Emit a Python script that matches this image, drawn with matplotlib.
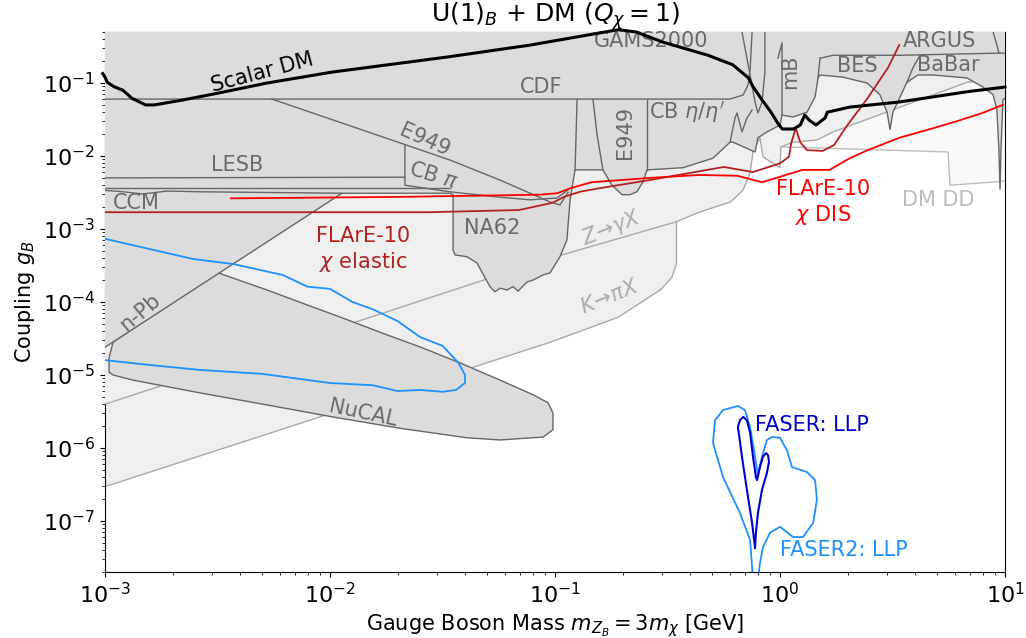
import numpy as np
import matplotlib.pyplot as plt
from matplotlib.ticker import LogLocator, NullFormatter

# everything below is (log10 mass [GeV], log10 coupling)

# dark grey: union of the existing bounds (CDF, LESB, CCM, E949, CB, NA62, n-Pb, GAMS, mB, BES, BaBar, ARGUS)
bounds_dark = [
    (-3.02, 0.0), (1.02, 0.0), (1.02, -1.16), (0.991, -1.23), (0.982, -1.92), (0.978, -2.46),
    (0.973, -1.92), (0.964, -1.37), (0.947, -1.16), (0.902, -1.055), (0.831, -0.93), (0.68, -0.89),
    (0.613, -0.89), (0.564, -0.99), (0.502, -1.40), (0.489, -1.64), (0.476, -1.40), (0.444, -1.16),
    (0.387, -1.00), (0.28, -0.92), (0.178, -0.89), (0.169, -0.93), (0.156, -1.19), (0.12, -1.40),
    (0.058, -1.465), (0.009, -1.44), (0.0, -1.575), (-0.058, -1.67), (-0.098, -1.75), (-0.111, -1.945),
    (-0.209, -1.81), (-0.222, -1.81), (-0.298, -2.03), (-0.431, -2.16), (-0.591, -2.19), (-0.609, -2.355),
    (-0.636, -2.49), (-0.667, -2.53), (-0.702, -2.53), (-0.747, -2.40), (-0.787, -2.19), (-0.911, -2.19),
    (-0.933, -2.60), (-0.947, -3.15), (-0.978, -3.38), (-1.022, -3.60), (-1.053, -3.63), (-1.098, -3.70),
    (-1.124, -3.725), (-1.164, -3.85), (-1.187, -3.79), (-1.213, -3.835), (-1.244, -3.81), (-1.267, -3.86),
    (-1.289, -3.79), (-1.347, -3.465), (-1.391, -3.38), (-1.444, -3.355), (-1.453, -3.29), (-1.453, -2.53),
    (-1.467, -2.51), (-1.947, -2.51), (-3.02, -4.66),
]
nucal = [
    (-2.964, -4.547), (-2.498, -3.60), (-2.28, -3.835), (-2.102, -4.04), (-1.956, -4.205), (-1.747, -4.45),
    (-1.60, -4.615), (-1.422, -4.835), (-1.244, -5.07), (-1.098, -5.27), (-1.031, -5.38), (-1.009, -5.52),
    (-1.009, -5.75), (-1.053, -5.85), (-1.244, -5.89), (-1.391, -5.86), (-1.689, -5.73), (-1.987, -5.575),
    (-2.28, -5.41), (-2.578, -5.245), (-2.876, -5.07), (-2.964, -5.00), (-2.982, -4.96), (-2.982, -4.767),
]
# light grey bounds
k_pi_x = [(-3.02, -6.55), (-1.02, -4.55), (-0.72, -4.21), (-0.53, -3.83), (-0.48, -3.66), (-0.46, -3.47),
          (-0.46, -1.9), (-3.02, -1.9)]
z_gamma_x = [(-3.02, -5.42), (-1.02, -3.40), (-0.46, -2.90), (-0.36, -2.77), (-0.22, -2.63), (-0.165, -2.47),
             (-0.133, -2.23), (-0.12, -1.945), (-0.089, -1.75), (-0.076, -2.01), (0.0, -2.16), (0.004, -1.875),
             (0.058, -1.81), (0.164, -1.78), (0.236, -1.67), (0.831, -0.99), (1.02, -0.93), (1.02, 0.0),
             (-3.02, 0.0)]
dm_dd = [(0.009, -1.875), (0.747, -1.945), (0.756, -2.40), (0.978, -2.35), (1.02, -2.33), (1.02, 0.0), (0.009, 0.0)]

# boundaries between the dark regions
inner_lines = [
    [(-3.02, -1.22), (-0.222, -1.22), (-0.164, -1.164), (-0.142, -1.027), (-0.133, -0.82), (-0.124, -0.30)],  # CDF
    [(-2.258, -1.22), (-1.689, -1.82), (-1.467, -2.055), (-1.244, -2.33), (-1.022, -2.63), (-0.978, -2.67),
     (-0.942, -2.50)],  # E949
    [(-1.667, -1.85), (-1.667, -2.40), (-1.467, -2.49), (-1.258, -2.56), (-1.111, -2.60), (-0.991, -2.575),
     (-0.942, -2.465)],  # CB pi
    [(-3.02, -2.30), (-1.667, -2.29)],  # LESB
    [(-3.02, -2.44), (-1.467, -2.44)],  # CCM
    [(-3.02, -2.465), (-2.92, -2.49), (-2.831, -2.52), (-2.724, -2.48), (-2.578, -2.49), (-1.947, -2.51)],
    [(-0.902, -1.23), (-0.907, -1.78), (-0.911, -2.19)],  # NA62
    [(-0.831, -1.23), (-0.813, -1.71), (-0.787, -2.19)],  # E949 (eta)
    [(-0.591, -1.23), (-0.591, -2.19)],
    [(-0.169, -0.30), (-0.133, -0.89), (-0.111, -1.26), (-0.098, -1.41), (-0.08, -1.26), (-0.067, -0.85),
     (-0.067, -0.30)],
    [(-0.222, -1.81), (-0.2, -1.48), (-0.191, -1.41), (-0.169, -1.67), (-0.147, -1.48), (-0.124, -1.37)],
    [(-0.009, -0.66), (0.009, -0.45), (0.009, -1.44)],  # mB
    [(0.178, -0.66), (0.169, -0.93)],
    [(0.178, -0.66), (0.236, -0.62), (0.533, -0.62), (0.978, -0.59), (1.02, -0.59)],  # BES / ARGUS
    [(0.564, -0.99), (0.591, -0.79), (0.622, -0.62)],  # BaBar
    [(0.947, -0.30), (0.964, -0.48), (0.973, -0.59)],  # ARGUS
]

scalar_dm = [
    (-3.01, -0.87), (-3.0, -0.92), (-2.99, -0.99), (-2.96, -1.05), (-2.92, -1.10), (-2.88, -1.21),
    (-2.82, -1.30), (-2.78, -1.30), (-2.65, -1.23), (-2.50, -1.14), (-2.28, -1.00), (-1.99, -0.85),
    (-1.47, -0.64), (-1.11, -0.48), (-0.72, -0.27), (-0.64, -0.30), (-0.52, -0.44), (-0.32, -0.62),
    (-0.21, -0.75), (-0.14, -0.93), (-0.12, -1.05), (-0.08, -1.23), (-0.04, -1.40), (-0.01, -1.55),
    (0.01, -1.63), (0.06, -1.63), (0.09, -1.575), (0.11, -1.44), (0.13, -1.51), (0.16, -1.575),
    (0.20, -1.48), (0.21, -1.40), (0.31, -1.33), (0.53, -1.26), (0.83, -1.12), (1.0, -1.055),
]
flare_elastic = [
    (-3.02, -2.77), (-1.56, -2.77), (-1.16, -2.74), (-1.01, -2.64), (-0.96, -2.56), (-0.89, -2.49),
    (-0.80, -2.44), (-0.58, -2.33), (-0.25, -2.15), (-0.12, -2.22), (0.0, -2.10), (0.04, -2.01),
    (0.05, -1.82), (0.07, -1.62), (0.09, -1.81), (0.12, -1.92), (0.19, -1.93), (0.24, -1.85),
    (0.30, -1.575), (0.39, -1.205), (0.48, -0.79), (0.53, -0.48),
]
flare_dis = [
    (-2.44, -2.58), (-1.69, -2.56), (-1.07, -2.53), (-0.99, -2.51), (-0.93, -2.44), (-0.84, -2.36),
    (-0.58, -2.30), (-0.36, -2.26), (-0.19, -2.27), (-0.08, -2.36), (0.10, -2.19), (0.22, -2.19),
    (0.31, -2.03), (0.39, -1.92), (0.53, -1.75), (0.68, -1.62), (0.80, -1.51), (0.90, -1.41), (0.99, -1.30),
]
faser2_chi = [
    (-3.02, -3.12), (-2.61, -3.41), (-2.43, -3.48), (-2.21, -3.63), (-2.10, -3.79), (-2.00, -3.82),
    (-1.90, -4.00), (-1.81, -4.10), (-1.70, -4.26), (-1.60, -4.48), (-1.50, -4.60), (-1.43, -4.83),
    (-1.40, -5.00), (-1.40, -5.11), (-1.44, -5.205), (-1.50, -5.23), (-1.60, -5.205), (-1.70, -5.22),
    (-1.81, -5.14), (-2.00, -5.11), (-2.30, -4.985), (-2.58, -4.93), (-2.81, -4.86), (-3.02, -4.79),
]
faser_llp = [
    (-0.111, -7.37), (-0.124, -7.03), (-0.147, -6.575), (-0.169, -6.12), (-0.187, -5.71), (-0.178, -5.62),
    (-0.164, -5.575), (-0.147, -5.62), (-0.133, -5.79), (-0.12, -6.12), (-0.107, -6.40), (-0.102, -6.44),
    (-0.089, -6.26), (-0.076, -6.12), (-0.062, -6.07), (-0.053, -6.10), (-0.049, -6.19), (-0.058, -6.34),
    (-0.08, -6.575), (-0.098, -6.89), (-0.107, -7.16), (-0.111, -7.37),
]
faser2_llp = [
    (-0.12, -7.80), (-0.133, -7.26), (-0.178, -6.89), (-0.253, -6.40), (-0.298, -5.93), (-0.289, -5.62),
    (-0.253, -5.48), (-0.187, -5.425), (-0.156, -5.48), (-0.133, -5.71), (-0.111, -6.12), (-0.098, -6.37),
    (-0.08, -6.12), (-0.058, -5.89), (-0.036, -5.85), (0.0, -5.86), (0.031, -6.03), (0.053, -6.26),
    (0.12, -6.33), (0.156, -6.44), (0.164, -6.71), (0.147, -7.03), (0.102, -7.22), (0.058, -7.22),
    (0.0, -7.08), (-0.044, -7.16), (-0.076, -7.36), (-0.089, -7.575), (-0.098, -7.80),
]

DARK_TXT = "#6a6a6a"
LIGHT_TXT = "#ababab"
labels = [
    ("GAMS2000", -0.573, -0.424, 0, DARK_TXT),
    ("CDF", -1.062, -1.054, 0, DARK_TXT),
    (r"CB $\eta/\eta'$", -0.413, -1.397, 0, DARK_TXT),
    ("E949", -0.689, -1.671, 90, DARK_TXT),
    ("E949", -1.578, -1.78, -24, DARK_TXT),
    (r"CB $\pi$", -1.542, -2.274, -17, DARK_TXT),
    ("LESB", -2.413, -2.123, 0, DARK_TXT),
    ("CCM", -2.862, -2.643, 0, DARK_TXT),
    ("NA62", -1.280, -2.99, 0, DARK_TXT),
    ("n-Pb", -2.844, -4.137, 40, DARK_TXT),
    ("NuCAL", -1.853, -5.52, -12, DARK_TXT),
    ("mB", 0.044, -0.849, 90, DARK_TXT),
    ("BES", 0.342, -0.767, 0, DARK_TXT),
    ("ARGUS", 0.707, -0.424, 0, DARK_TXT),
    ("BaBar", 0.747, -0.753, 0, DARK_TXT),
    (r"$Z\!\to\!\gamma X$", -0.747, -2.986, 22, LIGHT_TXT),
    (r"$K\!\to\!\pi X$", -0.756, -3.93, 22, LIGHT_TXT),
    ("DM DD", 0.702, -2.60, 0, "#bdbdbd"),
    ("Scalar DM", -2.30, -0.86, 15, "black"),
    ("FLArE-10\n$\\chi$ elastic", -1.853, -3.287, 0, "#b22222"),
    ("FLArE-10\n$\\chi$ DIS", 0.191, -2.643, 0, "red"),
    ("FASER: LLP", 0.142, -5.685, 0, "#0000cd"),
]


def xy(pts):
    a = 10 ** np.array(pts, dtype=float)
    return a[:, 0], a[:, 1]


fig = plt.figure(figsize=(10.26, 6.38), dpi=100)
ax = fig.add_axes([105 / 1026, 1 - 572 / 638, 900 / 1026, 540 / 638])
ax.set_xscale("log")
ax.set_yscale("log")

ax.fill(*xy(dm_dd), fc="#f9f9f9", ec="#bdbdbd", lw=1.0, zorder=1)
ax.fill(*xy(k_pi_x), fc="#efefef", ec="#a9a9a9", lw=1.0, zorder=2)
ax.fill(*xy(z_gamma_x), fc="#efefef", ec="#a9a9a9", lw=1.0, zorder=3)
ax.fill(*xy(nucal), fc="#dcdcdc", ec="#666666", lw=1.0, zorder=4)
ax.fill(*xy(bounds_dark), fc="#dcdcdc", ec="#666666", lw=1.0, zorder=5)
for ln in inner_lines:
    ax.plot(*xy(ln), color="#666666", lw=1.0, zorder=6)

for txt, lm, lg, rot, col in labels:
    ax.text(10 ** lm, 10 ** lg, txt, rotation=rot, color=col, fontsize=15,
            ha="center", va="center", multialignment="center", zorder=7,
            rotation_mode="anchor")
ax.text(1.0, 10 ** -7.397, "FASER2: LLP", color="dodgerblue", fontsize=15,
        ha="left", va="center", zorder=7)

ax.plot(*xy(faser2_chi), color="dodgerblue", lw=1.3, zorder=8)
ax.plot(*xy(flare_elastic), color="#b22222", lw=1.3, zorder=8)
ax.plot(*xy(flare_dis), color="red", lw=1.3, zorder=8)
ax.plot(*xy(faser2_llp), color="dodgerblue", lw=1.3, zorder=8)
ax.plot(*xy(faser_llp), color="#0000cd", lw=1.5, zorder=8)
ax.plot(*xy(scalar_dm), color="black", lw=2.2, zorder=9, clip_on=False)

ax.set_xlim(1e-3, 10)
ax.set_ylim(2e-8, 0.5)
for axis in (ax.xaxis, ax.yaxis):
    axis.set_major_locator(LogLocator(base=10, numticks=20))
    axis.set_minor_locator(LogLocator(base=10, subs=np.arange(2, 10), numticks=100))
    axis.set_minor_formatter(NullFormatter())
ax.tick_params(labelsize=16)
ax.set_xlabel(r"Gauge Boson Mass $m_{Z_B} = 3m_\chi$ [GeV]", fontsize=15)
ax.set_ylabel(r"Coupling $g_B$", fontsize=15)
ax.set_title(r"U(1)$_B$ + DM ($Q_\chi = 1$)", fontsize=18)

fig.savefig("out.png", dpi=100)
